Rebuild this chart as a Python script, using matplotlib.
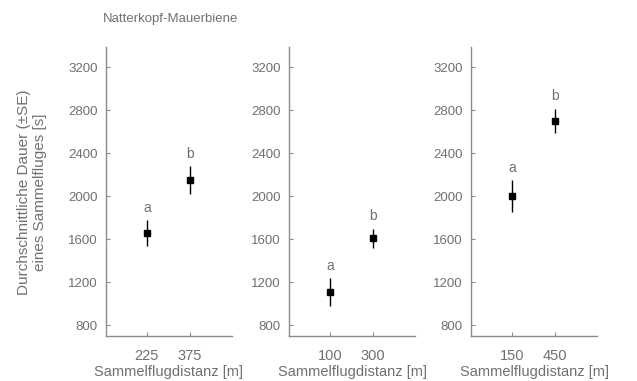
import matplotlib
matplotlib.use("Agg")
import matplotlib.pyplot as plt

plt.rcParams['font.family'] = ['Liberation Sans', 'DejaVu Sans']

title = "Natterkopf-Mauerbiene"
ylabel = "Durchschnittliche Dauer (±SE)\neines Sammelfluges [s]"
xlabel = "Sammelflugdistanz [m]"

distances = [["225", "375"], ["100", "300"], ["150", "450"]]
means = [[1660, 2150], [1110, 1610], [2000, 2700]]
se = [[120, 130], [130, 90], [150, 115]]
letters = [["a", "b"], ["a", "b"], ["a", "b"]]
yticks = [800, 1200, 1600, 2000, 2400, 2800, 3200]

gray = "#707070"
fig = plt.figure(figsize=(6.37, 3.81), dpi=100)
lefts = [106, 289, 471]
for i, l in enumerate(lefts):
    ax = fig.add_axes([l / 637, 1 - 336 / 381, 126 / 637, (336 - 47) / 381])
    xs = [1, 2]
    ax.errorbar(xs, means[i], yerr=se[i], fmt='s', color='black', ms=5,
                elinewidth=1.0, capsize=0)
    for x, m, s, t in zip(xs, means[i], se[i], letters[i]):
        ax.text(x, m + s + 50, t, ha='center', va='bottom', fontsize=10, color=gray)
    ax.set_xlim(0.05, 2.98)
    ax.set_ylim(700, 3390)
    ax.set_xticks(xs)
    ax.set_xticklabels(distances[i])
    ax.set_yticks(yticks)
    for s in ['top', 'right']:
        ax.spines[s].set_visible(False)
    for s in ['left', 'bottom']:
        ax.spines[s].set_color('#8c8c8c')
        ax.spines[s].set_linewidth(1.0)
    ax.tick_params(direction='in', colors='#8c8c8c', labelcolor=gray,
                   labelsize=9.5, length=3, width=0.8)
    ax.tick_params(axis='y', pad=6)
    ax.tick_params(axis='x', labelsize=10.5, pad=9)
    ax.set_xlabel(xlabel, fontsize=10.5, color=gray, labelpad=2)

fig.text(103 / 637, 1 - 19 / 381, title, ha='left', va='center', fontsize=9.5, color=gray)
fig.text(32 / 637, 1 - 192 / 381, ylabel, rotation=90, ha='center', va='center',
         multialignment='center', fontsize=11, color=gray)

fig.savefig("out.png", dpi=100)
